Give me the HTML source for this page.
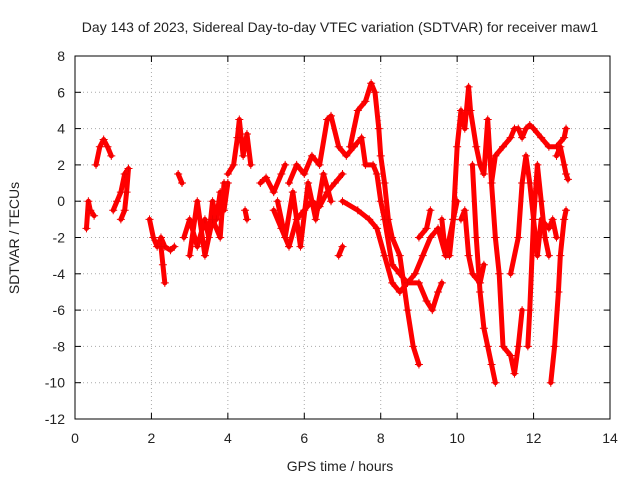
<!DOCTYPE html>
<html><head><meta charset="utf-8"><style>
html,body{margin:0;padding:0;background:#fff}
svg text{font-family:"Liberation Sans",sans-serif;font-size:14px;fill:#222}
</style></head><body>
<svg id="chart" width="640" height="480">
<text x="340" y="32" text-anchor="middle">Day 143 of 2023, Sidereal Day-to-day VTEC variation (SDTVAR) for receiver maw1</text>
<text x="340" y="471" text-anchor="middle">GPS time / hours</text>
<text transform="translate(19,238) rotate(-90)" text-anchor="middle">SDTVAR / TECUs</text>
<g id="grid"></g><g id="series"></g>
<rect x="75" y="56" width="535" height="363" fill="none" stroke="#000"/>
<g id="ticks"></g>
</svg>
<script>
const xTicks=[0,2,4,6,8,10,12,14];
const yTicks=[8,6,4,2,0,-2,-4,-6,-8,-10,-12];
const trackA=[[0.3,-1.5],[0.35,0],[0.4,-0.5],[0.5,-0.8]];
const trackB=[[0.55,2],[0.65,3],[0.75,3.4],[0.85,3],[0.95,2.5]];
const trackC=[[1.0,-0.5],[1.1,0],[1.2,0.5],[1.3,1.5],[1.4,1.8],[1.35,0.5],[1.3,-0.5],[1.2,-1]];
const trackD=[[1.95,-1],[2.05,-2],[2.15,-2.5],[2.25,-2],[2.35,-2.5],[2.5,-2.7],[2.6,-2.5]];
const trackD2=[[2.25,-2.5],[2.3,-3.5],[2.35,-4.5]];
const trackE=[[2.7,1.5],[2.8,1.0]];
const trackF=[[2.85,-2],[3.0,-1],[3.2,-2.5],[3.4,-1],[3.5,-2],[3.6,0],[3.7,-1],[3.8,0.5],[3.9,-0.5],[4.0,1]];
const trackF2=[[3.0,-3],[3.2,0],[3.4,-3],[3.6,-1],[3.8,-2],[3.9,1]];
const trackG=[[4.0,1.5],[4.15,2],[4.25,3.5],[4.3,4.5],[4.4,2.5],[4.5,3.7],[4.6,2]];
const trackH=[[4.45,-0.5],[4.5,-1]];
const trackI=[[4.85,1],[5.0,1.3],[5.2,0.5],[5.4,1.5],[5.5,2]];
const trackJ=[[5.2,-0.5],[5.4,-1.5],[5.6,-2.5],[5.8,-1],[6.0,-0.5],[6.2,0],[6.4,-0.3],[6.6,0.5],[6.8,1],[7.0,1.5]];
const trackJ2=[[5.3,0],[5.5,-2],[5.7,0.5],[5.9,-2.5],[6.1,1],[6.3,-1],[6.5,1.5],[6.7,0]];
const trackK=[[5.6,1],[5.8,2],[6.0,1.5],[6.2,2.5],[6.4,2],[6.6,4.5],[6.7,4.7],[6.9,3],[7.1,2.5],[7.3,3],[7.5,3.5],[7.6,2],[7.8,2],[7.9,1.5],[8.0,0],[8.1,-1],[8.3,-3.5],[8.5,-4],[8.7,-4.5],[8.9,-4],[9.1,-3],[9.3,-2],[9.5,-1.5],[9.7,-3],[9.9,-1],[10.0,0]];
const trackL=[[6.9,-3],[7.0,-2.5]];
const trackM=[[7.2,3],[7.4,5],[7.6,5.5],[7.75,6.5],[7.85,6],[7.95,4],[8.0,2.5],[8.1,1],[8.2,-1],[8.3,-2],[8.5,-3],[8.7,-6],[8.85,-8],[9.0,-9]];
const trackN=[[7.0,0],[7.4,-0.5],[7.7,-1],[7.9,-1.5],[8.1,-3],[8.3,-4.5],[8.5,-5],[8.7,-4.5],[9.0,-4.5],[9.2,-5.5],[9.35,-6],[9.5,-5],[9.6,-4.5]];
const trackO=[[9.0,-2],[9.2,-1.5],[9.3,-0.5]];
const trackP=[[9.6,-1],[9.7,-3],[9.8,-3],[9.9,-1],[10.0,3],[10.1,5],[10.2,4],[10.3,6.3],[10.35,5],[10.5,3],[10.6,2],[10.7,1.5],[10.8,4.5],[10.9,1],[11.0,-2],[11.1,-4],[11.2,-8],[11.4,-8.5],[11.5,-9.5],[11.6,-8],[11.7,-6]];
const trackQ=[[10.4,2],[10.5,-2],[10.6,-5],[10.7,-7],[10.8,-8],[10.9,-9],[11.0,-10]];
const trackR=[[10.9,1],[11.0,2.5],[11.2,3],[11.4,3.5],[11.5,4],[11.6,4],[11.7,3.5],[11.8,4],[11.9,4.2],[12.0,4],[12.2,3.5],[12.4,3],[12.6,3],[12.8,3.5],[12.85,4]];
const trackS=[[11.4,-4],[11.6,-2],[11.7,1],[11.8,2.5],[11.9,1],[12.0,-1],[12.1,-3],[12.2,-1],[12.4,-1.5],[12.5,-1],[12.6,-2]];
const trackT=[[11.85,-8],[11.9,-6],[12.0,-1],[12.1,2],[12.2,0],[12.3,-2],[12.4,-3]];
const trackU=[[12.45,-10],[12.55,-8],[12.65,-5],[12.7,-3],[12.8,-1],[12.85,-0.5]];
const trackV=[[12.6,2.5],[12.7,3],[12.8,2],[12.85,1.5],[12.9,1.2]];
const trackW=[[10.1,-1],[10.2,-0.5],[10.3,-3],[10.4,-4],[10.6,-4.5],[10.7,-3.5]];
const tracks=[trackA,trackB,trackC,trackD,trackD2,trackE,trackF,trackF2,trackG,trackH,trackI,trackJ,trackJ2,trackK,trackL,trackM,trackN,trackO,trackP,trackQ,trackR,trackS,trackT,trackU,trackV,trackW];

const NS="http://www.w3.org/2000/svg";
const X0=75,X1=610,Y0=419,Y1=56;
function sx(v){return X0+(v-0)/(14-0)*(X1-X0);}
function sy(v){return Y0-(v+12)/(20)*(Y0-Y1);}
const grid=document.getElementById('grid'),ticks=document.getElementById('ticks'),series=document.getElementById('series');
function mk(tag,attrs,parent){const e=document.createElementNS(NS,tag);for(const k in attrs)e.setAttribute(k,attrs[k]);parent.appendChild(e);return e;}
xTicks.forEach(t=>{
  const x=sx(t);
  if(t>0&&t<14){const g=mk('line',{x1:x,x2:x,y1:Y1,y2:Y0,stroke:'#aaa','stroke-dasharray':'1,3'},grid);
  
  }
  mk('line',{x1:x,x2:x,y1:Y0,y2:Y0-6,stroke:'#000'},ticks);
  mk('line',{x1:x,x2:x,y1:Y1,y2:Y1+6,stroke:'#000'},ticks);
  const l=mk('text',{x:x,y:Y0+24,'text-anchor':'middle'},ticks);l.textContent=t;
  
  
});
yTicks.forEach(t=>{
  const y=sy(t);
  if(t>-12&&t<8){const g=mk('line',{x1:X0,x2:X1,y1:y,y2:y,stroke:'#aaa','stroke-dasharray':'1,3'},grid);
  
  }
  mk('line',{x1:X0,x2:X0+6,y1:y,y2:y,stroke:'#000'},ticks);
  mk('line',{x1:X1,x2:X1-6,y1:y,y2:y,stroke:'#000'},ticks);
  const l=mk('text',{x:X0-10,y:y+5,'text-anchor':'end'},ticks);l.textContent=t;
  
  
});
tracks.forEach((tr,i)=>{
  const pts=tr.map(p=>sx(p[0])+','+sy(p[1])).join(' ');
  const pl=mk('polyline',{points:pts,fill:'none',stroke:'#f00','stroke-width':5,'stroke-linejoin':'round','stroke-linecap':'round'},series);
  
  
  tr.forEach(p=>{
    const x=sx(p[0]),y=sy(p[1]);
    const m=mk('path',{d:`M${x-4},${y}H${x+4}M${x},${y-4}V${y+4}`,stroke:'#e00','stroke-width':1},series);
    
    
  });
});
</script>
</body></html>
